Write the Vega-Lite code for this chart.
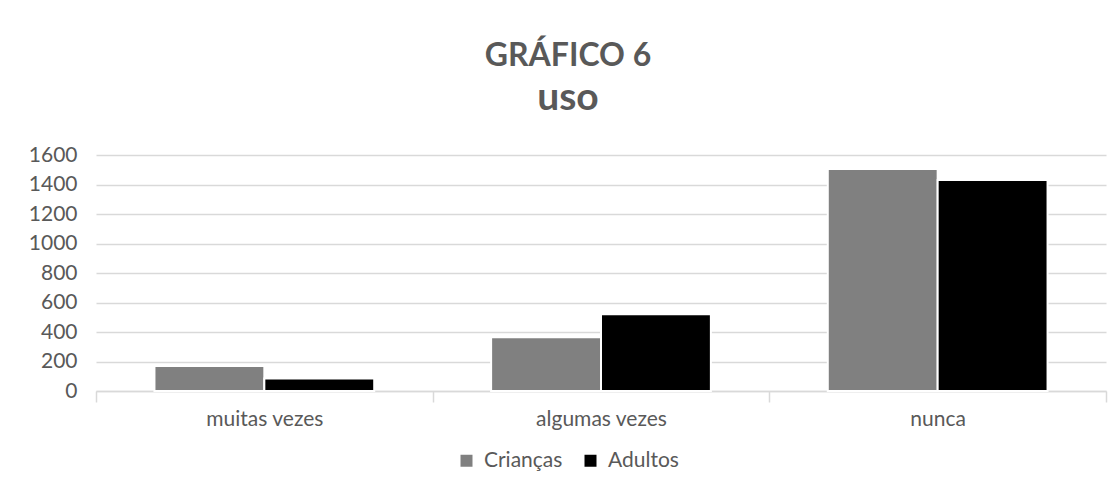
{
  "$schema": "https://vega.github.io/schema/vega-lite/v6.json",
  "width": 1010,
  "height": 236,
  "autosize": {"type": "none"},
  "padding": {"left": 96, "top": 155, "right": 9, "bottom": 98},
  "background": "white",
  "title": {
    "text": "GRÁFICO 6",
    "subtitle": "uso",
    "anchor": "middle",
    "dx": -33,
    "offset": 25,
    "font": "Lato",
    "fontSize": 32,
    "fontWeight": "bold",
    "color": "#595959",
    "subtitleFont": "Lato",
    "subtitleFontSize": 39,
    "subtitleFontWeight": "bold",
    "subtitleColor": "#595959",
    "subtitlePadding": 6
  },
  "data": {
    "values": [
      {"categoria": "muitas vezes", "grupo": "Crianças", "valor": 170},
      {"categoria": "muitas vezes", "grupo": "Adultos", "valor": 85},
      {"categoria": "algumas vezes", "grupo": "Crianças", "valor": 365},
      {"categoria": "algumas vezes", "grupo": "Adultos", "valor": 520},
      {"categoria": "nunca", "grupo": "Crianças", "valor": 1505},
      {"categoria": "nunca", "grupo": "Adultos", "valor": 1430}
    ]
  },
  "mark": {"type": "bar", "stroke": "white", "strokeWidth": 2},
  "encoding": {
    "x": {
      "field": "categoria",
      "type": "nominal",
      "sort": ["muitas vezes", "algumas vezes", "nunca"],
      "scale": {"paddingInner": 0, "paddingOuter": 0},
      "axis": {
        "title": null,
        "labelAngle": 0,
        "labelFont": "Lato",
        "labelFontSize": 21,
        "labelColor": "#595959",
        "labelPadding": 6,
        "domainColor": "#d9d9d9",
        "domainWidth": 1.5,
        "tickColor": "#d9d9d9",
        "tickWidth": 1.5,
        "tickSize": 11,
        "tickBand": "extent",
        "grid": false
      }
    },
    "xOffset": {
      "field": "grupo",
      "type": "nominal",
      "sort": ["Crianças", "Adultos"],
      "scale": {"paddingInner": 0, "paddingOuter": 0.532}
    },
    "y": {
      "field": "valor",
      "type": "quantitative",
      "scale": {"domain": [0, 1600]},
      "axis": {
        "title": null,
        "values": [0, 200, 400, 600, 800, 1000, 1200, 1400, 1600],
        "format": "d",
        "labelOverlap": false,
        "labelFont": "Lato",
        "labelFontSize": 21,
        "labelColor": "#595959",
        "labelPadding": 19,
        "domain": false,
        "ticks": false,
        "gridColor": "#d9d9d9",
        "gridWidth": 1.5
      }
    },
    "color": {
      "field": "grupo",
      "type": "nominal",
      "sort": ["Crianças", "Adultos"],
      "scale": {"domain": ["Crianças", "Adultos"], "range": ["#808080", "#000000"]},
      "legend": {
        "title": null,
        "orient": "none",
        "direction": "horizontal",
        "legendX": 360,
        "legendY": 295,
        "symbolType": "square",
        "symbolSize": 144,
        "symbolStrokeWidth": 0,
        "labelFont": "Lato",
        "labelFontSize": 21,
        "labelColor": "#595959",
        "labelOffset": 7,
        "columnPadding": 17
      }
    }
  },
  "config": {"view": {"stroke": null}}
}
